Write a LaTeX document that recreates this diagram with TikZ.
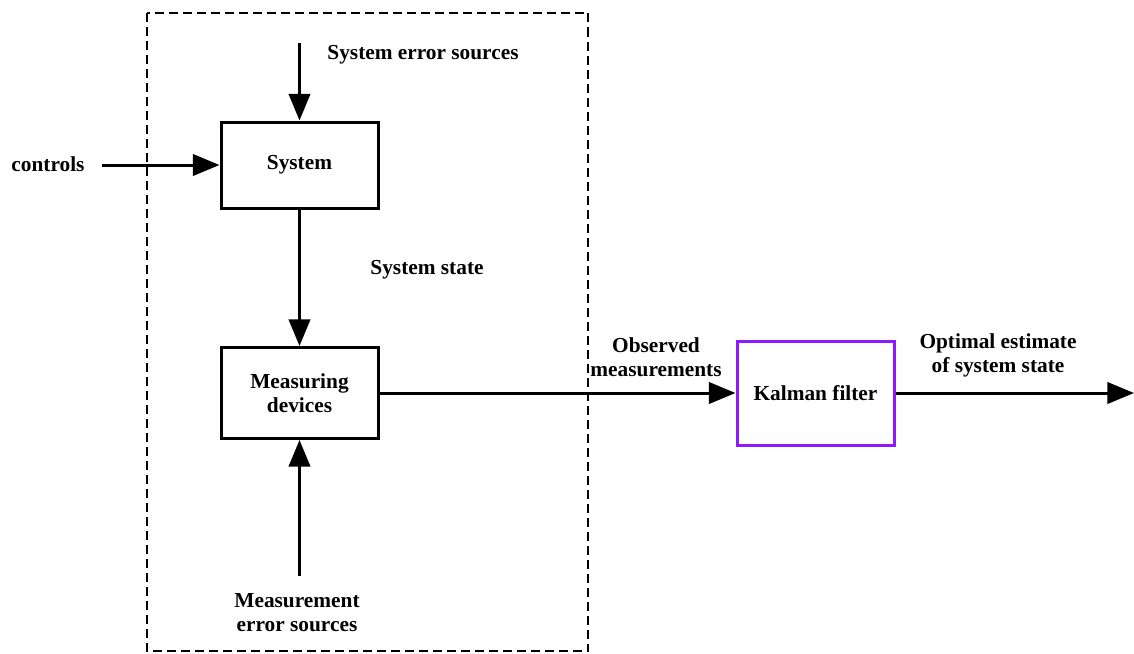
\documentclass[tikz,border=0pt]{standalone}
\usepackage{fontspec}
\setmainfont{Liberation Serif}
\usetikzlibrary{arrows.meta}
\definecolor{kalmanpurple}{RGB}{140,26,255}
\begin{document}
\begin{tikzpicture}[x=0.75pt,y=-0.75pt,
  every node/.style={font=\fontsize{16}{18}\selectfont\bfseries, inner sep=0pt, align=center},
  blockbox/.style={draw, line width=2.25pt, minimum width=117.75pt},
  flow/.style={line width=2.25pt, -{Triangle[length=20pt,width=16pt]}},
  label/.style={}
]
\useasboundingbox (0,0) rectangle (1134,653);

% dashed boundary around the plant and its sensors
\draw[line width=1.5pt, dash pattern=on 6.75pt off 3.75pt] (146.5,13) rectangle (588,651);

% blocks
\node[blockbox, minimum height=64.5pt] (sys) at (299.5,165) {System};
\node[blockbox, minimum height=68.25pt] (meas) at (299.5,393) {Measuring\\devices};
\node[blockbox, draw=kalmanpurple, minimum height=78pt] (kf) at (815.5,393) {Kalman filter};

% labels
\node[label] (syserr) at (423,55) {System error sources};
\node[label] (ctrl) at (48,164) {controls};
\node[label] (sysstate) at (427,270) {System state};
\node[label] (measerr) at (297,613) {Measurement\\error sources};
\node[label] (obs) at (656,357) {Observed\\measurements};
\node[label] (opt) at (998,355) {Optimal estimate\\of system state};

% free ends of the connectors
\coordinate (syserrin) at (299.5,43);
\coordinate (ctrlin) at (102,165);
\coordinate (measerrin) at (299.5,576);
\coordinate (estout) at (1134,393);

% connectors
\draw[flow] (syserrin) -- (sys.north);
\draw[flow] (ctrlin) -- (sys.west);
\draw[flow] (sys.south) -- (meas.north);
\draw[flow] (measerrin) -- (meas.south);
\draw[flow] (meas.east) -- (kf.west);
\draw[flow] (kf.east) -- (estout);
\end{tikzpicture}
\end{document}
